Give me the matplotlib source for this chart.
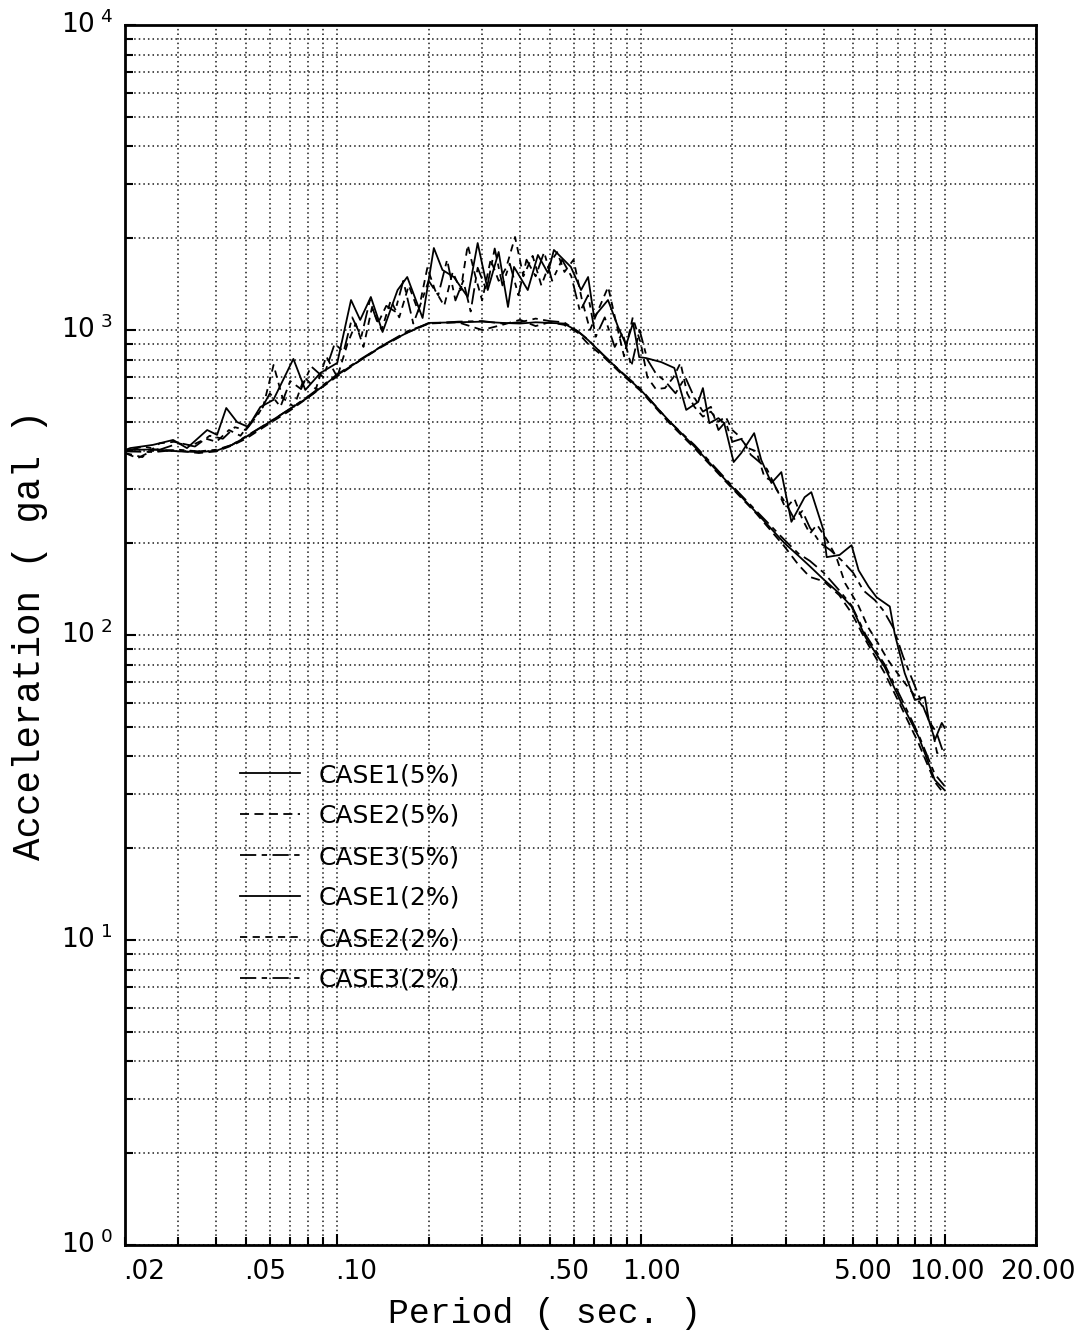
import matplotlib
matplotlib.use("Agg")
import matplotlib.pyplot as plt
from matplotlib import font_manager
from matplotlib.ticker import LogLocator
import matplotlib.transforms as mtransforms

# ---------------- data ----------------
periods_c1_5 = [0.020, 0.025, 0.03, 0.035, 0.04, 0.045, 0.05, 0.06, 0.07, 0.08, 0.10, 0.12, 0.142, 0.17, 0.20,
                0.25, 0.30, 0.35, 0.40, 0.45, 0.50, 0.558, 0.62, 0.67, 0.75, 0.86, 1.0, 1.23, 1.5, 1.94, 2.4,
                2.97, 3.3, 3.6, 4.0, 4.5, 4.94, 5.5, 6.35, 7.2, 8.22, 9.28, 10.0]
accel_c1_5 = [404, 406, 400, 398, 402, 420, 446, 500, 552, 600, 712, 800, 893, 980, 1055,
              1060, 1065, 1055, 1050, 1060, 1055, 1050, 990, 927, 830, 728, 635, 507, 415, 315, 252,
              200, 182, 168, 152, 137, 124, 98, 78.5, 60, 46.3, 33.5, 31]

periods_c2_5 = [0.020, 0.022, 0.025, 0.03, 0.035, 0.04, 0.045, 0.05, 0.06, 0.07, 0.08, 0.10, 0.12, 0.14, 0.17,
                0.20, 0.25, 0.30, 0.35, 0.40, 0.45, 0.50, 0.558, 0.62, 0.67, 0.75, 0.86, 1.0, 1.23, 1.5, 1.94,
                2.4, 2.97, 3.3, 3.6, 4.0, 4.5, 4.94, 5.5, 6.35, 7.2, 8.22, 9.28, 10.0]
accel_c2_5 = [395, 380, 405, 402, 395, 400, 418, 440, 495, 545, 600, 705, 800, 880, 980,
              1050, 1060, 1000, 1040, 1080, 1030, 1060, 1040, 980, 900, 820, 720, 630, 500, 410, 312,
              250, 195, 170, 155, 150, 135, 118, 96, 75, 58, 44, 33, 30]

periods_c3_5 = [0.020, 0.025, 0.03, 0.035, 0.04, 0.045, 0.05, 0.06, 0.07, 0.08, 0.10, 0.12, 0.14, 0.17, 0.20,
                0.25, 0.30, 0.35, 0.40, 0.45, 0.50, 0.558, 0.62, 0.67, 0.75, 0.86, 1.0, 1.23, 1.5, 1.94, 2.4,
                2.97, 3.3, 3.6, 4.0, 4.5, 4.94, 5.5, 6.35, 7.2, 8.22, 9.28, 10.0]
accel_c3_5 = [400, 398, 405, 400, 405, 420, 448, 500, 552, 605, 715, 805, 885, 990, 1050,
              1065, 1070, 1050, 1060, 1090, 1070, 1060, 990, 930, 830, 730, 640, 505, 420, 318, 255,
              205, 185, 175, 160, 140, 125, 100, 80, 62, 47, 35, 32]

periods_c1_2 = [0.020, 0.0208, 0.0247, 0.0288, 0.0320, 0.0373, 0.0402, 0.0431, 0.0468, 0.0509, 0.0558, 0.0616,
                0.0717, 0.0785, 0.0880, 0.100, 0.111, 0.119, 0.129, 0.141, 0.158, 0.170, 0.191, 0.208, 0.222,
                0.242, 0.269, 0.290, 0.313, 0.340, 0.365, 0.382, 0.424, 0.458, 0.494, 0.517, 0.588, 0.635,
                0.670, 0.701, 0.779, 0.841, 0.894, 0.942, 0.987, 1.04, 1.166, 1.288, 1.41, 1.544, 1.60, 1.68,
                1.80, 1.88, 2.02, 2.14, 2.36, 2.49, 2.69, 2.90, 3.13, 3.46, 3.64, 3.99, 4.09, 4.51, 4.94,
                5.21, 5.62, 5.97, 6.60, 6.85, 7.39, 7.98, 8.61, 8.87, 9.29, 9.79, 10.0]
accel_c1_2 = [404, 410, 420, 436, 410, 470, 453, 555, 499, 481, 559, 590,
              804, 636, 723, 780, 1254, 1079, 1283, 985, 1352, 1492, 1095, 1857, 1574,
              1492, 1283, 1928, 1352, 1802, 1190, 1610, 1352, 1762, 1538, 1830, 1610, 1352,
              1492, 1104, 1254, 1023, 893, 1055, 815, 809, 785, 751, 547, 581, 645, 495,
              514, 495, 369, 395, 459, 375, 315, 342, 235, 283, 294, 221, 180, 183, 197,
              163, 144, 133, 124, 101, 75, 61.2, 62.6, 52.6, 45.3, 51.5, 49.6]

periods_c2_2 = [0.020, 0.0228, 0.026, 0.029, 0.033, 0.037, 0.040, 0.044, 0.048, 0.052, 0.057, 0.0617, 0.066,
                0.072, 0.078, 0.085, 0.092, 0.100, 0.108, 0.115, 0.122, 0.130, 0.140, 0.150, 0.160, 0.172,
                0.185, 0.198, 0.210, 0.225, 0.240, 0.255, 0.269, 0.285, 0.300, 0.320, 0.340, 0.360, 0.385,
                0.410, 0.440, 0.470, 0.500, 0.530, 0.560, 0.600, 0.640, 0.680, 0.720, 0.780, 0.830, 0.880,
                0.940, 1.00, 1.05, 1.12, 1.20, 1.28, 1.35, 1.42, 1.50, 1.60, 1.70, 1.80, 1.90, 2.00, 2.10,
                2.25, 2.40, 2.55, 2.70, 2.85, 3.0, 3.2, 3.4, 3.6, 3.8, 4.1, 4.4, 4.7, 5.2, 5.6, 6.0, 6.5,
                7.2, 8.0, 8.5, 9.0, 9.45, 10.0]
accel_c2_2 = [395, 383, 425, 430, 418, 440, 430, 470, 450, 500, 560, 768, 600,
              560, 700, 640, 820, 700, 900, 1050, 880, 1180, 1000, 1250, 1100, 1400,
              1150, 1600, 1350, 1200, 1550, 1350, 1900, 1500, 1250, 1700, 1450, 1600, 2018,
              1500, 1750, 1400, 1650, 1800, 1550, 1700, 1250, 1000, 1150, 1384, 1050, 820,
              1100, 900, 700, 640, 645, 700, 780, 620, 560, 520, 540, 500, 520, 470, 450,
              410, 400, 330, 320, 290, 260, 280, 240, 215, 230, 205, 180, 148, 125, 106, 95, 83,
              72, 63, 58, 52, 41, 42]

periods_c3_2 = [0.020, 0.023, 0.026, 0.030, 0.034, 0.038, 0.042, 0.046, 0.050, 0.055, 0.060, 0.065, 0.070,
                0.076, 0.082, 0.090, 0.098, 0.105, 0.112, 0.120, 0.128, 0.136, 0.145, 0.155, 0.165, 0.178,
                0.190, 0.200, 0.215, 0.230, 0.245, 0.260, 0.275, 0.290, 0.310, 0.330, 0.350, 0.370, 0.395,
                0.420, 0.450, 0.480, 0.510, 0.550, 0.590, 0.630, 0.670, 0.710, 0.760, 0.820, 0.870, 0.930,
                0.990, 1.05, 1.12, 1.20, 1.30, 1.40, 1.50, 1.60, 1.70, 1.80, 1.90, 2.0, 2.15, 2.3, 2.45,
                2.6, 2.8, 3.0, 3.2, 3.4, 3.6, 3.9, 4.2, 4.6, 5.0, 5.4, 5.9, 6.3, 6.8, 7.3, 7.8, 8.4, 8.9,
                9.4, 10.0]
accel_c3_2 = [400, 415, 405, 425, 415, 450, 440, 480, 470, 530, 620, 560, 680,
              640, 760, 700, 900, 850, 1100, 950, 1250, 1050, 1200, 1150, 1450, 1050,
              1250, 1450, 1300, 1700, 1250, 1450, 1150, 1600, 1350, 1850, 1400, 1650, 1300,
              1700, 1500, 1800, 1450, 1700, 1500, 1150, 1300, 950, 1100, 880, 980, 760,
              1000, 800, 720, 680, 620, 700, 600, 540, 560, 470, 500, 430, 440, 390, 370,
              350, 300, 270, 240, 255, 225, 200, 190, 175, 160, 140, 130, 120, 105, 85, 72, 60, 52,
              48, 40]

series_labels = ["CASE1(5%)", "CASE2(5%)", "CASE3(5%)", "CASE1(2%)", "CASE2(2%)", "CASE3(2%)"]

xtick_values = [0.02, 0.05, 0.10, 0.50, 1.00, 5.00, 10.00, 20.00]
xtick_labels = [".02", ".05", ".10", ".50", "1.00", "5.00", "10.00", "20.00"]
ytick_values = [1, 10, 100, 1000, 10000]
ytick_labels = [r"$\mathregular{10^{\ 0}}$", r"$\mathregular{10^{\ 1}}$", r"$\mathregular{10^{\ 2}}$",
                r"$\mathregular{10^{\ 3}}$", r"$\mathregular{10^{\ 4}}$"]

# ---------------- fonts ----------------
available = {f.name for f in font_manager.fontManager.ttflist}
def pick(*names):
    for n in names:
        if n in available:
            return n
    return "DejaVu Sans"

sans_narrow = pick("Liberation Sans Narrow", "DejaVu Sans")
mono = pick("Liberation Mono", "DejaVu Sans Mono")

# ---------------- figure ----------------
W, H = 1086, 1333
fig = plt.figure(figsize=(W / 100, H / 100), dpi=100)
ax = fig.add_axes([125 / W, (H - 1245) / H, 911 / W, 1220 / H])
ax.set_xscale("log")
ax.set_yscale("log")
ax.set_xlim(0.02, 20)
ax.set_ylim(1, 10000)

lw = 1.3
styles = [
    (periods_c1_5, accel_c1_5, "-"),
    (periods_c2_5, accel_c2_5, (0, (5, 3))),
    (periods_c3_5, accel_c3_5, (0, (9, 3, 3, 3))),
    (periods_c1_2, accel_c1_2, "-"),
    (periods_c2_2, accel_c2_2, (0, (4, 3))),
    (periods_c3_2, accel_c3_2, (0, (9, 3, 3, 3))),
]
for (px, py, ls), lab in zip(styles, series_labels):
    ax.plot(px, py, color="black", lw=lw, linestyle=ls, label=lab, zorder=3)

# grid
ax.xaxis.set_major_locator(LogLocator(base=10, numticks=20))
ax.xaxis.set_minor_locator(LogLocator(base=10, subs=range(2, 10), numticks=50))
ax.yaxis.set_major_locator(LogLocator(base=10, numticks=20))
ax.yaxis.set_minor_locator(LogLocator(base=10, subs=range(2, 10), numticks=50))
ax.grid(True, which="both", color="0.1", linestyle=(0, (1, 2.0)), linewidth=1.1, zorder=1)

ax.tick_params(which="both", direction="in", top=False, right=False, width=1.5,
               labelbottom=False, labelleft=False)
ax.tick_params(which="major", length=8)
ax.tick_params(which="minor", length=6)

for s in ax.spines.values():
    s.set_linewidth(2.0)

# x tick labels (right-aligned slightly right of tick)
offset = mtransforms.ScaledTranslation(40 / 100, -14 / 100, fig.dpi_scale_trans)
for v, t in zip(xtick_values, xtick_labels):
    ax.text(v, 0, t, transform=ax.get_xaxis_transform() + offset, ha="right", va="top",
            fontsize=19, family=sans_narrow, color="black")

# y tick labels
yoff = mtransforms.ScaledTranslation(-12 / 100, 0, fig.dpi_scale_trans)
for v, t in zip(ytick_values, ytick_labels):
    ax.text(0, v, t, transform=ax.get_yaxis_transform() + yoff, ha="right", va="center",
            fontsize=19, family=sans_narrow, color="black")

fig.text(545 / W, 1 - 1313 / H, "Period ( sec. )", ha="center", va="center",
         fontsize=25, family=mono)
fig.text(30 / W, 1 - 635 / H, "Acceleration ( gal )", ha="center", va="center",
         rotation=90, fontsize=27, family=mono)

leg = ax.legend(loc="upper left", bbox_to_anchor=((240 - 125) / 911, (1245 - 763) / 1220),
                frameon=False, borderpad=0, borderaxespad=0, handlelength=2.4,
                handletextpad=0.75, labelspacing=0.68,
                prop={"family": sans_narrow, "size": 18})

fig.savefig("out.png", dpi=100, facecolor="white")
